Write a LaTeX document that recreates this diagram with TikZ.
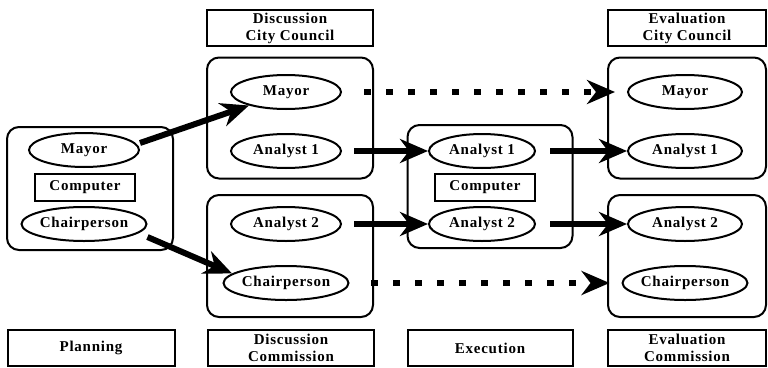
\documentclass[tikz,border=0pt]{standalone}
\usepackage{fontspec}
\setmainfont{Liberation Serif}[LetterSpace=5]
\usetikzlibrary{shapes.geometric,arrows.meta}
\begin{document}
\begin{tikzpicture}[x=1pt,y=-1pt,
    font=\fontsize{15}{17}\selectfont\bfseries,
    grp/.style={draw,rounded corners=12pt,line width=2pt},
    lbl/.style={draw,line width=2pt,align=center,inner sep=0pt},
    oval/.style={draw,ellipse,line width=2pt,fill=white,minimum width=110pt,minimum height=34pt,inner sep=0pt},
    flow/.style={line width=6pt,-{Stealth[length=28pt,width=24pt,inset=9pt]}},
    later/.style={flow,dash pattern=on 6.5pt off 15.5pt}]
    \useasboundingbox (0,0) rectangle (768,367);
            % headings
            \node (hDisCC) at (290,28) [lbl,minimum width=166pt,minimum height=36pt] {Discussion\\City Council};
            \node (hEvaCC) at (687,28) [lbl,minimum width=158pt,minimum height=36pt] {Evaluation\\City Council};
            \node (hPlan) at (91,348) [lbl,minimum width=167pt,minimum height=36pt] {Planning};
            \node (hDisCo) at (291,348) [lbl,minimum width=166pt,minimum height=36pt] {Discussion\\Commission};
            \node (hExec) at (490,348) [lbl,minimum width=165pt,minimum height=36pt] {Execution};
            \node (hEvaCo) at (687,348) [lbl,minimum width=158pt,minimum height=36pt] {Evaluation\\Commission};
            % groups
            \node (gPlan) at (90,188.5) [grp,minimum width=166pt,minimum height=123pt] {};
            \node (gDisCC) at (290,118) [grp,minimum width=166pt,minimum height=121pt] {};
            \node (gDisCo) at (290,256) [grp,minimum width=166pt,minimum height=122pt] {};
            \node (gExec) at (490,186.5) [grp,minimum width=165pt,minimum height=123pt] {};
            \node (gEvaCC) at (687,118) [grp,minimum width=158pt,minimum height=121pt] {};
            \node (gEvaCo) at (687,256) [grp,minimum width=158pt,minimum height=122pt] {};
            % Planning
            \node (mayP) at (84,150) [oval] {Mayor};
            \node (compP) at (85,187) [lbl,minimum width=100pt,minimum height=27pt] {Computer};
            \node (chairP) at (84,224) [oval] {Chairperson};
            % Discussion
            \node (mayD) at (286,92) [oval] {Mayor};
            \node (anaD) at (286,151) [oval] {Analyst 1};
            \node (anbD) at (286,224) [oval] {Analyst 2};
            \node (chairD) at (286,283) [oval] {Chairperson};
            % Execution
            \node (anaX) at (482,151) [oval,minimum width=106pt] {Analyst 1};
            \node (compX) at (485,187) [lbl,minimum width=100pt,minimum height=27pt] {Computer};
            \node (anbX) at (482,224) [oval,minimum width=106pt] {Analyst 2};
            % Evaluation
            \node (mayE) at (685,92) [oval,minimum width=114pt] {Mayor};
            \node (anaE) at (685,151) [oval,minimum width=114pt] {Analyst 1};
            \node (anbE) at (685,224) [oval,minimum width=114pt] {Analyst 2};
            \node (chairE) at (685,283) [oval,minimum width=114pt] {Chairperson};
            % arrows
            \draw [flow] ([yshift=7pt]mayP.east)--(mayD.200);
            \draw [flow] ([yshift=-13pt]chairP.east)--(chairD.170);
            \draw [flow,shorten <=12pt] (anaD)--(anaX);
            \draw [flow,shorten <=12pt] (anbD)--(anbX);
            \draw [flow,shorten <=14pt] (anaX)--(anaE);
            \draw [flow,shorten <=14pt] (anbX)--(anbE);
            \draw [later,shorten <=22pt,shorten >=12pt] (mayD)--(mayE);%pointill\'es
            \draw [later,shorten <=22pt,shorten >=12pt] (chairD)--(chairE);
        \end{tikzpicture}
\end{document}
